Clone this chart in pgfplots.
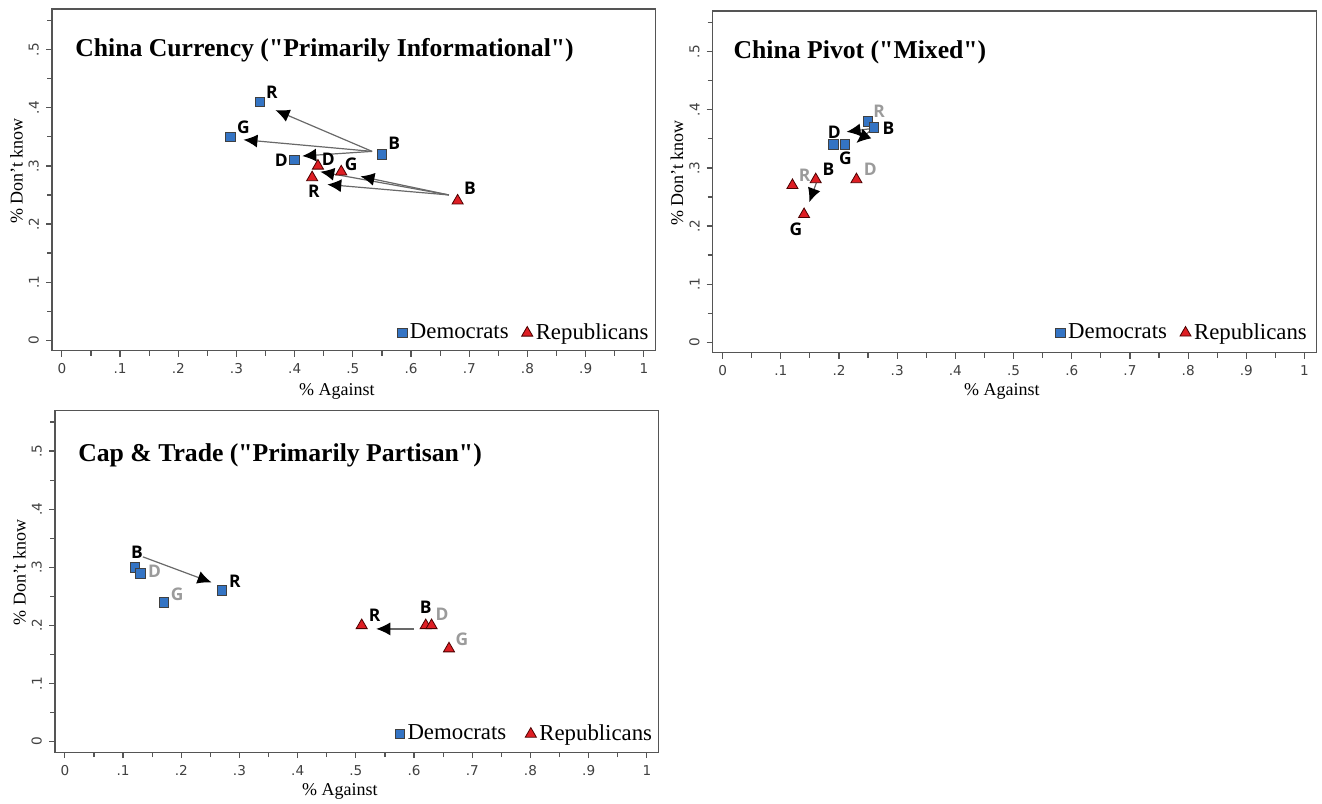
\documentclass[border=0pt]{standalone}
\usepackage{fontspec}
\setmainfont{Liberation Serif}
\newfontfamily\ttlfont{Liberation Serif}[Ligatures=TeXOff]
\newfontfamily\lblfont{Open Sans}
\newfontfamily\tickfont{DejaVu Sans}
\usepackage{pgfplots}
\pgfplotsset{compat=1.18}
\usetikzlibrary{arrows.meta}

\definecolor{dblue}{RGB}{52,116,196}
\definecolor{rred}{RGB}{222,30,36}
\definecolor{axgray}{RGB}{85,85,85}
\definecolor{lblgray}{RGB}{155,155,155}
\definecolor{arrgray}{RGB}{105,105,105}

\pgfplotsset{
  panel/.style={
    scale only axis,
    width=301.75pt, height=170.85pt,
    xmin=-0.017, xmax=1.02, ymin=-0.018, ymax=0.57,
    axis line style={axgray, line width=0.6pt},
    tick style={axgray, line width=0.6pt},
    tick align=outside, tick pos=left,
    major tick length=3pt, minor tick length=2.5pt,
    xtick={0,0.1,0.2,0.3,0.4,0.5,0.6,0.7,0.8,0.9,1},
    xticklabels={0,.1,.2,.3,.4,.5,.6,.7,.8,.9,1},
    minor xtick={0.05,0.15,0.25,0.35,0.45,0.55,0.65,0.75,0.85,0.95},
    ytick={0,0.1,0.2,0.3,0.4,0.5},
    yticklabels={0,.1,.2,.3,.4,.5},
    minor ytick={0.05,0.15,0.25,0.35,0.45,0.55},
    ticklabel style={font=\tickfont\fontsize{6.8}{8}\selectfont, text=black!75},
    yticklabel style={rotate=90, anchor=south},
    xlabel={\% Against}, ylabel={\% Don't know},
    label style={font=\fontsize{9}{10}\selectfont},
    x label style={at={(axis description cs:0.472,-0.118)}, anchor=center},
    y label style={at={(axis description cs:-0.059,0.526)}, anchor=center},
    clip=false,
    legend style={draw=none, fill=none, legend columns=2,
      font=\fontsize{11.4}{13}\selectfont, inner sep=0pt,
      /tikz/every even column/.append style={column sep=5pt},
      nodes={inner sep=1.5pt}},
    legend image code/.code={\draw[#1] plot coordinates {(0pt,0pt)};},
  },
  demo/.style={only marks, mark=square*, mark size=2.4pt,
    mark options={fill=dblue, draw=black!75, line width=0.4pt}},
  rep/.style={only marks, mark=triangle*, mark size=3.2pt,
    mark options={fill=rred, draw=black!70!red, line width=0.4pt}},
  arr/.style={arrgray, line width=0.6pt, -{Latex[length=7pt,width=6.5pt,color=black]}, forget plot},
}
\newcommand\lb[4]{\node[font=\lblfont\bfseries\fontsize{8.7}{9}\selectfont, text=#4, inner sep=0pt] at (axis cs:#1,#2) {#3};}
\newcommand\ttl[3]{\node[anchor=base west, font=\ttlfont\bfseries\fontsize{12.85}{15}\selectfont, inner sep=0pt] at (axis description cs:#1,#2) {#3};}

\begin{document}
\begin{tikzpicture}
\useasboundingbox (0,0) rectangle (661pt,-401.5pt);

% Panel 1: China Currency
\begin{axis}[panel, at={(26pt,-175.35pt)}, anchor=south west,
  legend style={at={(axis description cs:0.994,0.052)}, anchor=east}]
\addplot[arr] coordinates {(0.533,0.325) (0.367,0.396)};
\addplot[arr] coordinates {(0.533,0.325) (0.312,0.345)};
\addplot[arr] coordinates {(0.533,0.325) (0.413,0.317)};
\addplot[arr] coordinates {(0.665,0.250) (0.456,0.268)};
\addplot[arr] coordinates {(0.665,0.250) (0.444,0.290)};
\addplot[arr] coordinates {(0.665,0.250) (0.513,0.282)};
\addplot[demo] coordinates {(0.34,0.41) (0.29,0.35) (0.55,0.32) (0.40,0.31)};
\addlegendentry{Democrats}
\addplot[rep] coordinates {(0.44,0.30) (0.48,0.29) (0.43,0.28) (0.68,0.24)};
\addlegendentry{Republicans}
\lb{0.361}{0.426}{R}{black}
\lb{0.312}{0.367}{G}{black}
\lb{0.571}{0.339}{B}{black}
\lb{0.377}{0.310}{D}{black}
\lb{0.458}{0.311}{D}{black}
\lb{0.497}{0.302}{G}{black}
\lb{0.433}{0.256}{R}{black}
\lb{0.701}{0.261}{B}{black}
\ttl{0.038}{0.86}{China Currency ("Primarily Informational")}
\end{axis}

% Panel 2: China Pivot
\begin{axis}[panel, at={(356.35pt,-176.35pt)}, anchor=south west,
  x label style={at={(axis description cs:0.479,-0.112)}},
  legend style={at={(axis description cs:0.99,0.058)}, anchor=east}]
\addplot[arr] coordinates {(0.258,0.368) (0.213,0.362)};
\addplot[arr] coordinates {(0.258,0.368) (0.230,0.343)};
\addplot[arr] coordinates {(0.161,0.274) (0.149,0.241)};
\addplot[demo] coordinates {(0.25,0.38) (0.26,0.37) (0.19,0.34) (0.21,0.34)};
\addlegendentry{Democrats}
\addplot[rep] coordinates {(0.12,0.27) (0.16,0.28) (0.23,0.28) (0.14,0.22)};
\addlegendentry{Republicans}
\lb{0.269}{0.398}{R}{lblgray}
\lb{0.285}{0.369}{B}{black}
\lb{0.192}{0.361}{D}{black}
\lb{0.211}{0.317}{G}{black}
\lb{0.141}{0.287}{R}{lblgray}
\lb{0.182}{0.297}{B}{black}
\lb{0.254}{0.297}{D}{lblgray}
\lb{0.126}{0.195}{G}{black}
\ttl{0.034}{0.862}{China Pivot ("Mixed")}
\end{axis}

% Panel 3: Cap & Trade
\begin{axis}[panel, at={(27.5pt,-376.05pt)}, anchor=south west,
  x label style={at={(axis description cs:0.472,-0.114)}},
  legend style={at={(axis description cs:0.995,0.053)}, anchor=east,
    /tikz/every even column/.append style={column sep=8pt}}]
\addplot[arr] coordinates {(0.134,0.318) (0.252,0.274)};
\addplot[arr] coordinates {(0.600,0.194) (0.535,0.194)};
\addplot[demo] coordinates {(0.12,0.30) (0.13,0.29) (0.17,0.24) (0.27,0.26)};
\addlegendentry{Democrats}
\addplot[rep] coordinates {(0.51,0.20) (0.62,0.20) (0.63,0.20) (0.66,0.16)};
\addlegendentry{Republicans}
\lb{0.124}{0.326}{B}{black}
\lb{0.154}{0.294}{D}{lblgray}
\lb{0.193}{0.254}{G}{lblgray}
\lb{0.292}{0.276}{R}{black}
\lb{0.532}{0.217}{R}{black}
\lb{0.620}{0.231}{B}{black}
\lb{0.648}{0.220}{D}{lblgray}
\lb{0.682}{0.176}{G}{lblgray}
\ttl{0.038}{0.851}{Cap \& Trade ("Primarily Partisan")}
\end{axis}
\end{tikzpicture}
\end{document}
